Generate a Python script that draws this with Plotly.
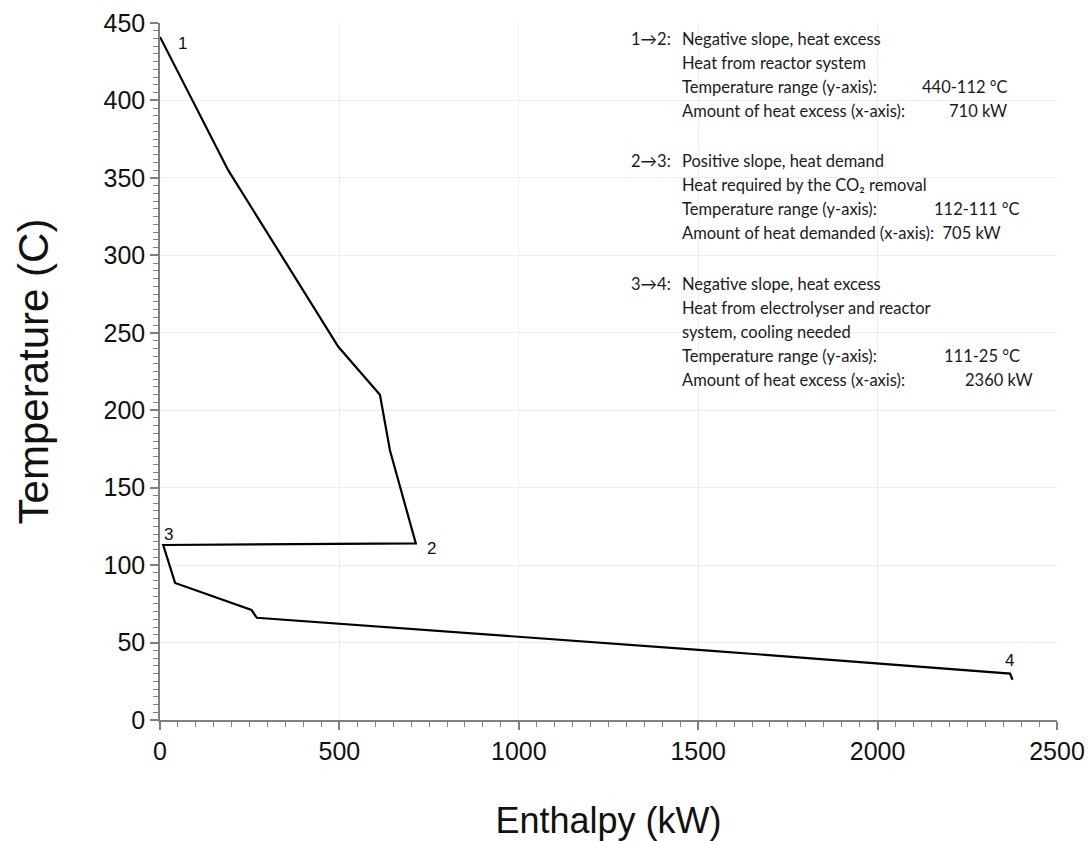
import plotly.graph_objects as go

# Composite curve
enthalpy_kw = [0, 190, 497, 613, 641, 713, 9, 42, 255, 270, 1520, 2369, 2376]
temperature_c = [441, 355, 241, 210, 174, 114, 113, 88.5, 71, 66, 45, 30, 26]

# Point labels
point_names = ["1", "2", "3", "4"]
point_x = [64, 757, 25, 2367]
point_y = [437, 111, 120, 38.5]

# Explanatory text block (left-aligned lines)
note_lines = [
    ("1\u21922:", 1307, 439.6),
    ("Negative slope, heat excess", 1449, 439.6),
    ("Heat from reactor system", 1449, 424.1),
    ("Temperature range (y-axis):", 1449, 408.6),
    ("Amount of heat excess (x-axis):", 1449, 393.1),
    ("2\u21923:", 1307, 361.0),
    ("Positive slope, heat demand", 1449, 361.0),
    ("Heat required by the CO\u2082 removal", 1449, 345.4),
    ("Temperature range (y-axis):", 1449, 329.9),
    ("Amount of heat demanded (x-axis):  705 kW", 1449, 314.4),
    ("3\u21924:", 1307, 281.5),
    ("Negative slope, heat excess", 1449, 281.5),
    ("Heat from electrolyser and reactor", 1449, 266.0),
    ("system, cooling needed", 1449, 250.5),
    ("Temperature range (y-axis):", 1449, 235.0),
    ("Amount of heat excess (x-axis):", 1449, 219.5),
]
# Right-aligned values
note_values = [
    ("440-112 \u00b0C", 2369, 408.6),
    ("710 kW", 2366, 393.1),
    ("112-111 \u00b0C", 2403, 329.9),
    ("111-25 \u00b0C", 2403, 235.0),
    ("2360 kW", 2439, 219.5),
]

fig = go.Figure()
fig.add_trace(go.Scatter(
    x=enthalpy_kw, y=temperature_c, mode="lines",
    line=dict(color="#000000", width=2.2),
    showlegend=False, hoverinfo="skip",
))

annotations = []
for t, x, y in zip(point_names, point_x, point_y):
    annotations.append(dict(text=t, x=x, y=y, xref="x", yref="y", showarrow=False,
                            font=dict(family="Liberation Sans, Arial", size=17, color="#111111")))
for t, x, y in note_lines:
    annotations.append(dict(text=t, x=x, y=y, xref="x", yref="y", showarrow=False,
                            xanchor="left", yanchor="middle",
                            font=dict(family="Lato", size=16.5, color="#1a1a1a")))
for t, x, y in note_values:
    annotations.append(dict(text=t, x=x, y=y, xref="x", yref="y", showarrow=False,
                            xanchor="right", yanchor="middle",
                            font=dict(family="Lato", size=16.5, color="#1a1a1a")))

axis_common = dict(
    showline=True, linecolor="#808080", linewidth=1.5,
    ticks="outside", ticklen=8, tickcolor="#808080", tickwidth=1.5,
    showgrid=True, gridcolor="#eeeeee", gridwidth=1,
    zeroline=False, automargin=False,
    tickfont=dict(family="Liberation Sans, Arial", size=25, color="#111111"),
)

fig.update_layout(
    width=1089, height=841,
    margin=dict(l=160, r=32, t=23, b=121),
    paper_bgcolor="white", plot_bgcolor="white",
    annotations=annotations,
    xaxis=dict(
        range=[0, 2500], dtick=500, tick0=0,
        minor=dict(ticks="outside", dtick=50, ticklen=5, tickcolor="#808080", tickwidth=1, showgrid=False),
        title=dict(text="Enthalpy (kW)", standoff=44,
                   font=dict(family="Liberation Sans, Arial", size=36, color="#111111")),
        **axis_common,
    ),
    yaxis=dict(
        range=[0, 450], dtick=50, tick0=0,
        minor=dict(ticks="outside", dtick=5, ticklen=5, tickcolor="#808080", tickwidth=1, showgrid=False),
        title=dict(text="Temperature (C)", standoff=42,
                   font=dict(family="Liberation Sans, Arial", size=42, color="#111111")),
        **axis_common,
    ),
)

fig.write_html("out.html")
